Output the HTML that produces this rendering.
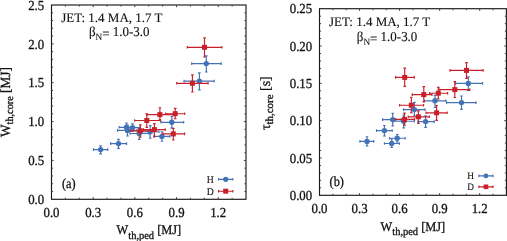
<!DOCTYPE html>
<html><head><meta charset="utf-8"><style>
html,body{margin:0;padding:0;background:#fff;}
body{width:507px;height:241px;overflow:hidden;}
svg{display:block;will-change:transform;}
.t{font-family:"Liberation Serif",serif;font-size:13px;fill:#111;stroke:#111;stroke-width:0.3px;text-rendering:geometricPrecision;}
.sub{font-size:10.3px;}
</style></head><body>
<svg width="507" height="241" viewBox="0 0 507 241">
<rect x="51.5" y="5.0" width="194.5" height="194.3" fill="none" stroke="#1a1a1a" stroke-width="1.15"/>
<path d="M65.39 199.3v-1.6M65.39 5.0v1.6M79.29 199.3v-1.6M79.29 5.0v1.6M93.18 199.3v-2.2M93.18 5.0v2.2M107.07 199.3v-1.6M107.07 5.0v1.6M120.96 199.3v-1.6M120.96 5.0v1.6M134.86 199.3v-2.2M134.86 5.0v2.2M148.75 199.3v-1.6M148.75 5.0v1.6M162.64 199.3v-1.6M162.64 5.0v1.6M176.54 199.3v-2.2M176.54 5.0v2.2M190.43 199.3v-1.6M190.43 5.0v1.6M204.32 199.3v-1.6M204.32 5.0v1.6M218.21 199.3v-2.2M218.21 5.0v2.2M232.11 199.3v-1.6M232.11 5.0v1.6M51.5 191.53h1.6M246.0 191.53h-1.6M51.5 183.76h1.6M246.0 183.76h-1.6M51.5 175.98h1.6M246.0 175.98h-1.6M51.5 168.21h1.6M246.0 168.21h-1.6M51.5 160.44h2.2M246.0 160.44h-2.2M51.5 152.67h1.6M246.0 152.67h-1.6M51.5 144.90h1.6M246.0 144.90h-1.6M51.5 137.12h1.6M246.0 137.12h-1.6M51.5 129.35h1.6M246.0 129.35h-1.6M51.5 121.58h2.2M246.0 121.58h-2.2M51.5 113.81h1.6M246.0 113.81h-1.6M51.5 106.04h1.6M246.0 106.04h-1.6M51.5 98.26h1.6M246.0 98.26h-1.6M51.5 90.49h1.6M246.0 90.49h-1.6M51.5 82.72h2.2M246.0 82.72h-2.2M51.5 74.95h1.6M246.0 74.95h-1.6M51.5 67.18h1.6M246.0 67.18h-1.6M51.5 59.40h1.6M246.0 59.40h-1.6M51.5 51.63h1.6M246.0 51.63h-1.6M51.5 43.86h2.2M246.0 43.86h-2.2M51.5 36.09h1.6M246.0 36.09h-1.6M51.5 28.32h1.6M246.0 28.32h-1.6M51.5 20.54h1.6M246.0 20.54h-1.6M51.5 12.77h1.6M246.0 12.77h-1.6" stroke="#444" stroke-width="1"/>
<rect x="319.5" y="8.7" width="186.89999999999998" height="186.60000000000002" fill="none" stroke="#1a1a1a" stroke-width="1.15"/>
<path d="M332.85 195.3v-1.6M332.85 8.7v1.6M346.20 195.3v-1.6M346.20 8.7v1.6M359.55 195.3v-2.2M359.55 8.7v2.2M372.90 195.3v-1.6M372.90 8.7v1.6M386.25 195.3v-1.6M386.25 8.7v1.6M399.60 195.3v-2.2M399.60 8.7v2.2M412.95 195.3v-1.6M412.95 8.7v1.6M426.30 195.3v-1.6M426.30 8.7v1.6M439.65 195.3v-2.2M439.65 8.7v2.2M453.00 195.3v-1.6M453.00 8.7v1.6M466.35 195.3v-1.6M466.35 8.7v1.6M479.70 195.3v-2.2M479.70 8.7v2.2M493.05 195.3v-1.6M493.05 8.7v1.6M319.5 187.84h1.6M506.4 187.84h-1.6M319.5 180.37h1.6M506.4 180.37h-1.6M319.5 172.91h1.6M506.4 172.91h-1.6M319.5 165.44h1.6M506.4 165.44h-1.6M319.5 157.98h2.2M506.4 157.98h-2.2M319.5 150.52h1.6M506.4 150.52h-1.6M319.5 143.05h1.6M506.4 143.05h-1.6M319.5 135.59h1.6M506.4 135.59h-1.6M319.5 128.12h1.6M506.4 128.12h-1.6M319.5 120.66h2.2M506.4 120.66h-2.2M319.5 113.20h1.6M506.4 113.20h-1.6M319.5 105.73h1.6M506.4 105.73h-1.6M319.5 98.27h1.6M506.4 98.27h-1.6M319.5 90.80h1.6M506.4 90.80h-1.6M319.5 83.34h2.2M506.4 83.34h-2.2M319.5 75.88h1.6M506.4 75.88h-1.6M319.5 68.41h1.6M506.4 68.41h-1.6M319.5 60.95h1.6M506.4 60.95h-1.6M319.5 53.48h1.6M506.4 53.48h-1.6M319.5 46.02h2.2M506.4 46.02h-2.2M319.5 38.56h1.6M506.4 38.56h-1.6M319.5 31.09h1.6M506.4 31.09h-1.6M319.5 23.63h1.6M506.4 23.63h-1.6M319.5 16.16h1.6M506.4 16.16h-1.6" stroke="#444" stroke-width="1"/>
<text transform="translate(51.5,216.8) scale(0.93,1)" text-anchor="middle" class="t" style="font-size:13.8px" >0.0</text>
<text transform="translate(93.18,216.8) scale(0.93,1)" text-anchor="middle" class="t" style="font-size:13.8px" >0.3</text>
<text transform="translate(134.86,216.8) scale(0.93,1)" text-anchor="middle" class="t" style="font-size:13.8px" >0.6</text>
<text transform="translate(176.54,216.8) scale(0.93,1)" text-anchor="middle" class="t" style="font-size:13.8px" >0.9</text>
<text transform="translate(218.21,216.8) scale(0.93,1)" text-anchor="middle" class="t" style="font-size:13.8px" >1.2</text>
<text transform="translate(319.5,213.0) scale(0.93,1)" text-anchor="middle" class="t" style="font-size:13.8px" >0.0</text>
<text transform="translate(359.55,213.0) scale(0.93,1)" text-anchor="middle" class="t" style="font-size:13.8px" >0.3</text>
<text transform="translate(399.6,213.0) scale(0.93,1)" text-anchor="middle" class="t" style="font-size:13.8px" >0.6</text>
<text transform="translate(439.65,213.0) scale(0.93,1)" text-anchor="middle" class="t" style="font-size:13.8px" >0.9</text>
<text transform="translate(479.7,213.0) scale(0.93,1)" text-anchor="middle" class="t" style="font-size:13.8px" >1.2</text>
<text transform="translate(44.2,204.0) scale(0.93,1)" text-anchor="end" class="t" style="font-size:13.8px" >0.0</text>
<text transform="translate(44.2,165.14) scale(0.93,1)" text-anchor="end" class="t" style="font-size:13.8px" >0.5</text>
<text transform="translate(44.2,126.28) scale(0.93,1)" text-anchor="end" class="t" style="font-size:13.8px" >1.0</text>
<text transform="translate(44.2,87.42) scale(0.93,1)" text-anchor="end" class="t" style="font-size:13.8px" >1.5</text>
<text transform="translate(44.2,48.56) scale(0.93,1)" text-anchor="end" class="t" style="font-size:13.8px" >2.0</text>
<text transform="translate(44.2,9.7) scale(0.93,1)" text-anchor="end" class="t" style="font-size:13.8px" >2.5</text>
<text transform="translate(312.2,200.0) scale(0.93,1)" text-anchor="end" class="t" style="font-size:13.8px" >0.00</text>
<text transform="translate(312.2,162.68) scale(0.93,1)" text-anchor="end" class="t" style="font-size:13.8px" >0.05</text>
<text transform="translate(312.2,125.36) scale(0.93,1)" text-anchor="end" class="t" style="font-size:13.8px" >0.10</text>
<text transform="translate(312.2,88.04) scale(0.93,1)" text-anchor="end" class="t" style="font-size:13.8px" >0.15</text>
<text transform="translate(312.2,50.72) scale(0.93,1)" text-anchor="end" class="t" style="font-size:13.8px" >0.20</text>
<text transform="translate(312.2,13.4) scale(0.93,1)" text-anchor="end" class="t" style="font-size:13.8px" >0.25</text>
<path d="M93.5 149.6H107.8M100.6 145.8V153.9M93.5 148.29999999999998v2.6M107.8 148.29999999999998v2.6M99.3 145.8h2.6M99.3 153.9h2.6" stroke="#4472b6" stroke-width="1.15" fill="none"/>
<circle cx="100.6" cy="149.6" r="2.7" fill="#4472b6"/>
<path d="M110.6 143.6H126.6M118.5 139.3V148.4M110.6 142.29999999999998v2.6M126.6 142.29999999999998v2.6M117.2 139.3h2.6M117.2 148.4h2.6" stroke="#4472b6" stroke-width="1.15" fill="none"/>
<circle cx="118.5" cy="143.6" r="2.7" fill="#4472b6"/>
<path d="M119.1 127.3H134.5M126.5 123.0V132.0M119.1 126.0v2.6M134.5 126.0v2.6M125.2 123.0h2.6M125.2 132.0h2.6" stroke="#4472b6" stroke-width="1.15" fill="none"/>
<circle cx="126.5" cy="127.3" r="2.7" fill="#4472b6"/>
<path d="M117.6 130.4H137.0M127.5 125.0V136.0M117.6 129.1v2.6M137.0 129.1v2.6M126.2 125.0h2.6M126.2 136.0h2.6" stroke="#4472b6" stroke-width="1.15" fill="none"/>
<circle cx="127.5" cy="130.4" r="2.7" fill="#4472b6"/>
<path d="M125.0 127.6H140.0M132.5 123.8V131.5M125.0 126.3v2.6M140.0 126.3v2.6M131.2 123.8h2.6M131.2 131.5h2.6" stroke="#4472b6" stroke-width="1.15" fill="none"/>
<circle cx="132.5" cy="127.6" r="2.7" fill="#4472b6"/>
<path d="M130.0 133.5H149.0M139.2 128.5V139.3M130.0 132.2v2.6M149.0 132.2v2.6M137.89999999999998 128.5h2.6M137.89999999999998 139.3h2.6" stroke="#4472b6" stroke-width="1.15" fill="none"/>
<circle cx="139.2" cy="133.5" r="2.7" fill="#4472b6"/>
<path d="M141.5 131.7H159.0M150.2 125.6V138.2M141.5 130.39999999999998v2.6M159.0 130.39999999999998v2.6M148.89999999999998 125.6h2.6M148.89999999999998 138.2h2.6" stroke="#4472b6" stroke-width="1.15" fill="none"/>
<circle cx="150.2" cy="131.7" r="2.7" fill="#4472b6"/>
<path d="M154.0 136.4H170.0M161.9 131.7V141.2M154.0 135.1v2.6M170.0 135.1v2.6M160.6 131.7h2.6M160.6 141.2h2.6" stroke="#4472b6" stroke-width="1.15" fill="none"/>
<circle cx="161.9" cy="136.4" r="2.7" fill="#4472b6"/>
<path d="M160.9 122.3H183.7M171.8 116.5V128.1M160.9 121.0v2.6M183.7 121.0v2.6M170.5 116.5h2.6M170.5 128.1h2.6" stroke="#4472b6" stroke-width="1.15" fill="none"/>
<circle cx="171.8" cy="122.3" r="2.7" fill="#4472b6"/>
<path d="M184.0 81.1H214.2M199.4 72.8V89.8M184.0 79.8v2.6M214.2 79.8v2.6M198.1 72.8h2.6M198.1 89.8h2.6" stroke="#4472b6" stroke-width="1.15" fill="none"/>
<circle cx="199.4" cy="81.1" r="2.7" fill="#4472b6"/>
<path d="M191.7 63.6H221.2M206.3 55.9V72.0M191.7 62.300000000000004v2.6M221.2 62.300000000000004v2.6M205.0 55.9h2.6M205.0 72.0h2.6" stroke="#4472b6" stroke-width="1.15" fill="none"/>
<circle cx="206.3" cy="63.6" r="2.7" fill="#4472b6"/>
<path d="M134.7 120.5H160.5M146.8 113.7V127.4M134.7 119.2v2.6M160.5 119.2v2.6M145.5 113.7h2.6M145.5 127.4h2.6" stroke="#c8202a" stroke-width="1.15" fill="none"/>
<rect x="144.3" y="118.0" width="5.0" height="5.0" fill="#c8202a"/>
<path d="M146.8 114.6H173.5M159.9 107.7V119.9M146.8 113.3v2.6M173.5 113.3v2.6M158.6 107.7h2.6M158.6 119.9h2.6" stroke="#c8202a" stroke-width="1.15" fill="none"/>
<rect x="157.4" y="112.1" width="5.0" height="5.0" fill="#c8202a"/>
<path d="M165.5 113.7H184.7M175.2 108.3V118.7M165.5 112.4v2.6M184.7 112.4v2.6M173.89999999999998 108.3h2.6M173.89999999999998 118.7h2.6" stroke="#c8202a" stroke-width="1.15" fill="none"/>
<rect x="172.7" y="111.2" width="5.0" height="5.0" fill="#c8202a"/>
<path d="M130.5 130.8H151.5M140.3 124.8V137.2M130.5 129.5v2.6M151.5 129.5v2.6M139.0 124.8h2.6M139.0 137.2h2.6" stroke="#c8202a" stroke-width="1.15" fill="none"/>
<rect x="137.8" y="128.3" width="5.0" height="5.0" fill="#c8202a"/>
<path d="M143.5 129.6H165.3M154.4 123.6V136.7M143.5 128.29999999999998v2.6M165.3 128.29999999999998v2.6M153.1 123.6h2.6M153.1 136.7h2.6" stroke="#c8202a" stroke-width="1.15" fill="none"/>
<rect x="151.9" y="127.1" width="5.0" height="5.0" fill="#c8202a"/>
<path d="M163.0 133.9H184.6M173.3 128.4V140.0M163.0 132.6v2.6M184.6 132.6v2.6M172.0 128.4h2.6M172.0 140.0h2.6" stroke="#c8202a" stroke-width="1.15" fill="none"/>
<rect x="170.8" y="131.4" width="5.0" height="5.0" fill="#c8202a"/>
<path d="M176.7 83.3H208.1M192.4 74.8V92.0M176.7 82.0v2.6M208.1 82.0v2.6M191.1 74.8h2.6M191.1 92.0h2.6" stroke="#c8202a" stroke-width="1.15" fill="none"/>
<rect x="189.9" y="80.8" width="5.0" height="5.0" fill="#c8202a"/>
<path d="M187.3 47.3H221.9M204.5 37.9V57.0M187.3 46.0v2.6M221.9 46.0v2.6M203.2 37.9h2.6M203.2 57.0h2.6" stroke="#c8202a" stroke-width="1.15" fill="none"/>
<rect x="202.0" y="44.8" width="5.0" height="5.0" fill="#c8202a"/>
<path d="M359.9 141.4H373.7M367.0 136.7V145.9M359.9 140.1v2.6M373.7 140.1v2.6M365.7 136.7h2.6M365.7 145.9h2.6" stroke="#4472b6" stroke-width="1.15" fill="none"/>
<circle cx="367.0" cy="141.4" r="2.7" fill="#4472b6"/>
<path d="M376.5 130.6H392.2M384.4 125.5V136.0M376.5 129.29999999999998v2.6M392.2 129.29999999999998v2.6M383.09999999999997 125.5h2.6M383.09999999999997 136.0h2.6" stroke="#4472b6" stroke-width="1.15" fill="none"/>
<circle cx="384.4" cy="130.6" r="2.7" fill="#4472b6"/>
<path d="M389.5 138.2H405.2M397.2 134.5V141.8M389.5 136.89999999999998v2.6M405.2 136.89999999999998v2.6M395.9 134.5h2.6M395.9 141.8h2.6" stroke="#4472b6" stroke-width="1.15" fill="none"/>
<circle cx="397.2" cy="138.2" r="2.7" fill="#4472b6"/>
<path d="M384.4 143.5H399.4M391.7 139.0V147.5M384.4 142.2v2.6M399.4 142.2v2.6M390.4 139.0h2.6M390.4 147.5h2.6" stroke="#4472b6" stroke-width="1.15" fill="none"/>
<circle cx="391.7" cy="143.5" r="2.7" fill="#4472b6"/>
<path d="M382.6 119.6H401.2M392.7 113.2V126.0M382.6 118.3v2.6M401.2 118.3v2.6M391.4 113.2h2.6M391.4 126.0h2.6" stroke="#4472b6" stroke-width="1.15" fill="none"/>
<circle cx="392.7" cy="119.6" r="2.7" fill="#4472b6"/>
<path d="M393.0 121.2H414.3M403.7 115.0V128.0M393.0 119.9v2.6M414.3 119.9v2.6M402.4 115.0h2.6M402.4 128.0h2.6" stroke="#4472b6" stroke-width="1.15" fill="none"/>
<circle cx="403.7" cy="121.2" r="2.7" fill="#4472b6"/>
<path d="M403.5 109.6H425.0M414.4 102.3V116.0M403.5 108.3v2.6M425.0 108.3v2.6M413.09999999999997 102.3h2.6M413.09999999999997 116.0h2.6" stroke="#4472b6" stroke-width="1.15" fill="none"/>
<circle cx="414.4" cy="109.6" r="2.7" fill="#4472b6"/>
<path d="M417.9 121.6H434.2M425.6 115.7V127.3M417.9 120.3v2.6M434.2 120.3v2.6M424.3 115.7h2.6M424.3 127.3h2.6" stroke="#4472b6" stroke-width="1.15" fill="none"/>
<circle cx="425.6" cy="121.6" r="2.7" fill="#4472b6"/>
<path d="M424.4 100.8H446.0M435.0 95.3V107.5M424.4 99.5v2.6M446.0 99.5v2.6M433.7 95.3h2.6M433.7 107.5h2.6" stroke="#4472b6" stroke-width="1.15" fill="none"/>
<circle cx="435.0" cy="100.8" r="2.7" fill="#4472b6"/>
<path d="M446.5 102.6H476.0M461.5 96.0V109.3M446.5 101.3v2.6M476.0 101.3v2.6M460.2 96.0h2.6M460.2 109.3h2.6" stroke="#4472b6" stroke-width="1.15" fill="none"/>
<circle cx="461.5" cy="102.6" r="2.7" fill="#4472b6"/>
<path d="M455.6 83.4H482.6M468.3 76.8V90.5M455.6 82.10000000000001v2.6M482.6 82.10000000000001v2.6M467.0 76.8h2.6M467.0 90.5h2.6" stroke="#4472b6" stroke-width="1.15" fill="none"/>
<circle cx="468.3" cy="83.4" r="2.7" fill="#4472b6"/>
<path d="M395.6 77.4H414.3M404.7 68.1V86.4M395.6 76.10000000000001v2.6M414.3 76.10000000000001v2.6M403.4 68.1h2.6M403.4 86.4h2.6" stroke="#c8202a" stroke-width="1.15" fill="none"/>
<rect x="402.2" y="74.9" width="5.0" height="5.0" fill="#c8202a"/>
<path d="M450.1 70.4H483.1M466.5 62.6V78.3M450.1 69.10000000000001v2.6M483.1 69.10000000000001v2.6M465.2 62.6h2.6M465.2 78.3h2.6" stroke="#c8202a" stroke-width="1.15" fill="none"/>
<rect x="464.0" y="67.9" width="5.0" height="5.0" fill="#c8202a"/>
<path d="M399.6 105.2H423.6M411.3 97.2V112.7M399.6 103.9v2.6M423.6 103.9v2.6M410.0 97.2h2.6M410.0 112.7h2.6" stroke="#c8202a" stroke-width="1.15" fill="none"/>
<rect x="408.8" y="102.7" width="5.0" height="5.0" fill="#c8202a"/>
<path d="M395.6 119.4H414.6M404.5 113.1V125.2M395.6 118.10000000000001v2.6M414.6 118.10000000000001v2.6M403.2 113.1h2.6M403.2 125.2h2.6" stroke="#c8202a" stroke-width="1.15" fill="none"/>
<rect x="402.0" y="116.9" width="5.0" height="5.0" fill="#c8202a"/>
<path d="M408.2 116.8H429.3M418.4 110.8V123.5M408.2 115.5v2.6M429.3 115.5v2.6M417.09999999999997 110.8h2.6M417.09999999999997 123.5h2.6" stroke="#c8202a" stroke-width="1.15" fill="none"/>
<rect x="415.9" y="114.3" width="5.0" height="5.0" fill="#c8202a"/>
<path d="M426.0 112.8H447.2M436.6 105.5V120.3M426.0 111.5v2.6M447.2 111.5v2.6M435.3 105.5h2.6M435.3 120.3h2.6" stroke="#c8202a" stroke-width="1.15" fill="none"/>
<rect x="434.1" y="110.3" width="5.0" height="5.0" fill="#c8202a"/>
<path d="M412.2 94.6H432.0M423.8 86.6V101.9M412.2 93.3v2.6M432.0 93.3v2.6M422.5 86.6h2.6M422.5 101.9h2.6" stroke="#c8202a" stroke-width="1.15" fill="none"/>
<rect x="421.3" y="92.1" width="5.0" height="5.0" fill="#c8202a"/>
<path d="M429.6 93.2H447.6M438.3 87.4V99.0M429.6 91.9v2.6M447.6 91.9v2.6M437.0 87.4h2.6M437.0 99.0h2.6" stroke="#c8202a" stroke-width="1.15" fill="none"/>
<rect x="435.8" y="90.7" width="5.0" height="5.0" fill="#c8202a"/>
<path d="M439.0 89.6H469.8M454.8 81.6V97.5M439.0 88.3v2.6M469.8 88.3v2.6M453.5 81.6h2.6M453.5 97.5h2.6" stroke="#c8202a" stroke-width="1.15" fill="none"/>
<rect x="452.3" y="87.1" width="5.0" height="5.0" fill="#c8202a"/>
<path d="M218.6 179.3H232.8M225.7 179.3V179.3M218.6 178.0v2.6M232.8 178.0v2.6M224.39999999999998 179.3h2.6M224.39999999999998 179.3h2.6" stroke="#4472b6" stroke-width="1.15" fill="none"/>
<circle cx="225.7" cy="179.3" r="2.6" fill="#4472b6"/>
<path d="M218.6 191.2H232.8M225.7 191.2V191.2M218.6 189.89999999999998v2.6M232.8 189.89999999999998v2.6M224.39999999999998 191.2h2.6M224.39999999999998 191.2h2.6" stroke="#c8202a" stroke-width="1.15" fill="none"/>
<rect x="223.2" y="188.7" width="5.0" height="5.0" fill="#c8202a"/>
<text transform="translate(213.8,182.6) scale(0.93,1)" text-anchor="end" class="t" style="font-size:10.5px;stroke-width:0.1px" >H</text>
<text transform="translate(213.8,194.5) scale(0.93,1)" text-anchor="end" class="t" style="font-size:10.5px;stroke-width:0.1px" >D</text>
<path d="M478.9 175.9H493.0M485.95 175.9V175.9M478.9 174.6v2.6M493.0 174.6v2.6M484.65 175.9h2.6M484.65 175.9h2.6" stroke="#4472b6" stroke-width="1.15" fill="none"/>
<circle cx="485.95" cy="175.9" r="2.4" fill="#4472b6"/>
<path d="M478.9 186.8H493.0M485.95 186.8V186.8M478.9 185.5v2.6M493.0 185.5v2.6M484.65 186.8h2.6M484.65 186.8h2.6" stroke="#c8202a" stroke-width="1.15" fill="none"/>
<rect x="483.65" y="184.5" width="4.6" height="4.6" fill="#c8202a"/>
<text transform="translate(474.1,179.2) scale(0.93,1)" text-anchor="end" class="t" style="font-size:10px;stroke-width:0.1px" >H</text>
<text transform="translate(474.1,190.1) scale(0.93,1)" text-anchor="end" class="t" style="font-size:10px;stroke-width:0.1px" >D</text>
<text transform="translate(61.2,22.0) scale(1,1)" class="t" style="font-size:13px;stroke-width:0.12px" >JET: 1.4 MA, 1.7 T</text>
<text transform="translate(89.0,36.3) scale(0.96,1)" class="t" style="font-size:13.5px;stroke-width:0.12px" >β<tspan class="sub" style="font-size:9.6px" dy="4.0">N</tspan><tspan dy="-2.2">=</tspan><tspan dy="-1.8"> 1.0-3.0</tspan></text>
<text transform="translate(329.0,26.1) scale(1,1)" class="t" style="font-size:13px;stroke-width:0.12px" >JET: 1.4 MA, 1.7 T</text>
<text transform="translate(356.8,41.3) scale(0.96,1)" class="t" style="font-size:13.5px;stroke-width:0.12px" >β<tspan class="sub" style="font-size:9.6px" dy="4.0">N</tspan><tspan dy="-2.2">=</tspan><tspan dy="-1.8"> 1.0-3.0</tspan></text>
<text transform="translate(62.0,188.3) scale(0.88,1)" class="t" style="font-size:14px" >(a)</text>
<text transform="translate(329.6,185.7) scale(0.88,1)" class="t" style="font-size:14px" >(b)</text>
<text transform="translate(116.6,233.9) scale(0.95,1)" class="t" style="font-size:13px" >W<tspan class="sub" style="font-size:11px" dy="4.6">th,ped</tspan><tspan dy="-4.6"> [MJ]</tspan></text>
<text transform="translate(380.6,230.8) scale(0.95,1)" class="t" style="font-size:13px" >W<tspan class="sub" style="font-size:11px" dy="4.6">th,ped</tspan><tspan dy="-4.6"> [MJ]</tspan></text>
<text transform="translate(9.6,137.0) rotate(-90) scale(0.95,1)" class="t" style="font-size:14px" >W<tspan class="sub" style="font-size:10.8px" dy="3.4">th,core</tspan><tspan dy="-3.4"> [MJ]</tspan></text>
<text transform="translate(269.6,130.1) rotate(-90) scale(1.0,1)" class="t" style="font-size:14px" >τ<tspan class="sub" style="font-size:10.9px" dy="3.6">th,core</tspan><tspan dy="-3.6"> [s]</tspan></text>
</svg>
</body></html>
